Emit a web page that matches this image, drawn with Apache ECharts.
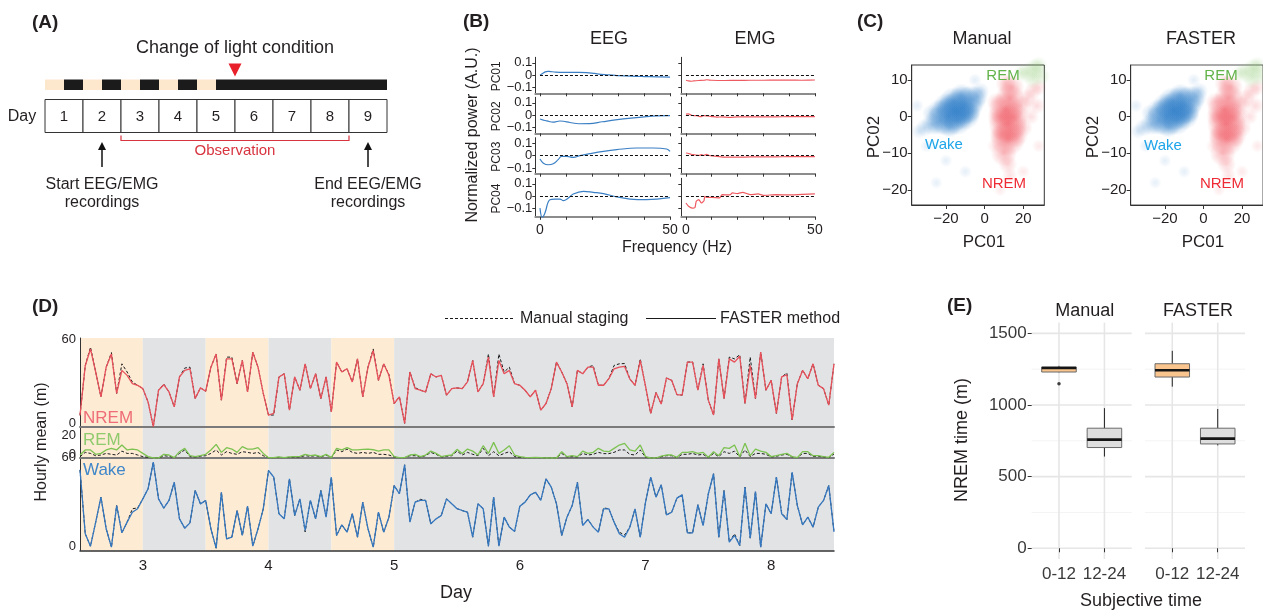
<!DOCTYPE html>
<html><head><meta charset="utf-8">
<script src="https://cdn.jsdelivr.net/npm/echarts@6/dist/echarts.min.js"></script>
<style>html,body{margin:0;padding:0;background:#fff}#c{width:1263px;height:612px}</style>
</head><body><div id="c"></div>
<script>
const FONT = '"Liberation Sans", Arial, Helvetica, sans-serif';
const INK = '#231f20';

// ---------- Panel A data ----------
const dayNumbers = [1, 2, 3, 4, 5, 6, 7, 8, 9];
// [start day, end day, isDark]
const lightPhases = [[0,0.5,0],[0.5,1,1],[1,1.5,0],[1.5,2,1],[2,2.5,0],[2.5,3,1],[3,3.5,0],[3.5,4,1],[4,4.5,0],[4.5,9,1]];
const lightChangeDay = 5;
const observationSpan = [2, 8];
const recordingDays = [1.5, 8.5];
const recordingTexts = ['Start EEG/EMG\nrecordings', 'End EEG/EMG\nrecordings'];

// ---------- Panel B data (frequency Hz, loading) ----------
const eegPC01 = [[0,0],[1,0.015],[2,0.028],[3,0.032],[4,0.03],[6,0.026],[8,0.024],[10,0.023],[12,0.023],[15,0.024],[18,0.022],[20,0.018],[22,0.012],[25,0.006],[28,0.002],[30,-0.002],[35,-0.007],[40,-0.01],[45,-0.012],[50,-0.014]];
const emgPC01 = [[0,-0.04],[1,-0.045],[2,-0.048],[3,-0.045],[5,-0.042],[7,-0.04],[8,-0.036],[10,-0.04],[15,-0.042],[20,-0.041],[25,-0.04],[30,-0.04],[35,-0.039],[40,-0.039],[45,-0.04],[50,-0.038]];
const eegPC02 = [[0,-0.03],[1,-0.037],[2,-0.042],[3.5,-0.05],[5,-0.055],[6.5,-0.05],[7.7,-0.046],[9,-0.048],[11.5,-0.058],[15,-0.068],[19,-0.067],[24,-0.052],[29,-0.037],[35,-0.022],[41,-0.01],[45,-0.005],[50,-0.003]];
const emgPC02 = [[0,0.01],[1,0.012],[2,0.002],[3,-0.003],[4,-0.002],[5,-0.008],[6,-0.01],[7,-0.002],[8,-0.005],[10,-0.01],[12,-0.015],[14,-0.012],[17,-0.016],[20,-0.013],[25,-0.013],[30,-0.012],[35,-0.012],[40,-0.011],[45,-0.011],[50,-0.01]];
const eegPC03 = [[0,-0.027],[1.3,-0.06],[3.2,-0.073],[5.1,-0.065],[7,-0.032],[8.3,-0.005],[10.3,-0.005],[12.8,-0.013],[15.4,0],[19.2,0.016],[24.4,0.035],[29.5,0.049],[37.2,0.062],[43.6,0.062],[48.7,0.054],[50,0.035]];
const emgPC03 = [[0,0.022],[1,0.018],[2,0.012],[3,0.008],[4,0.005],[5,0.002],[6,0.008],[7,0.003],[8,0.01],[9,0.002],[10,-0.002],[12,-0.005],[15,-0.012],[20,-0.012],[25,-0.01],[30,-0.01],[35,-0.009],[40,-0.008],[45,-0.008],[50,-0.007]];
const eegPC04 = [[0,-0.095],[0.9,-0.172],[1.9,-0.135],[3.8,-0.027],[5.8,-0.022],[7.7,-0.022],[9,-0.035],[10.9,-0.014],[12.8,0.019],[16.7,0.04],[20.5,0.032],[24.4,0.022],[29.5,-0.005],[34.6,-0.022],[41,-0.027],[50,-0.011]];
const emgPC04 = [[0,-0.054],[1,-0.08],[2.5,-0.095],[3.5,-0.09],[4,-0.04],[5,-0.027],[6,-0.054],[7,-0.035],[7.3,0],[8,-0.008],[10,-0.008],[13,-0.013],[14,0.013],[17,0.011],[18,0.027],[20,0.022],[22,0.032],[25,0.013],[28,0.019],[30,0.008],[35,0.013],[40,0.011],[45,0.016],[50,0.019]];
const pcNames = ['PC01', 'PC02', 'PC03', 'PC04'];
const bYTicks = [-0.1, 0, 0.1];
const eegRows = [eegPC01, eegPC02, eegPC03, eegPC04];
const emgRows = [emgPC01, emgPC02, emgPC03, emgPC04];

// ---------- Panel C data: [PC01, PC02, relative density] ----------
const wakeCloud = [[-15,1.5,3],[-11,3,3],[-19,0,3],[-7,4.5,2],[-23,-1,2],[-14,-1,2],[-16,4,2],[-27,-2,1.2],[-4,5.5,1.2],[-10,0.5,2],[-20,3,1.5],[-31,-3,0.7],[-2,7,0.6],[-24,2,1],[-12,6,1.2],[-18,-3,1],[-8,1,1.2],[-34,-4,0.4],[-28,1,0.6],[-30,-8,0.2],[-20,-12,0.15],[-10,-15,0.15],[-25,-18,0.12],[-35,3,0.2],[-5,10,0.2]];
const nremCloud = [[12,-2,3],[12,-6,2.6],[11,2,2.6],[13,5,2],[10,-10,1.6],[12,-13,0.8],[15,0,2],[8,0,1.5],[16,-5,1.5],[9,-5,1.5],[14,8,1.5],[19,3,1],[22,5,0.8],[25,7,0.7],[27,3,0.6],[20,-3,0.8],[6,4,0.8],[11,9,1],[28,8,0.5],[24,0,0.5],[13,-16,0.4],[5,-8,0.3],[20,-15,0.2],[8,-20,0.15],[28,-8,0.2]];
const remCloud = [[22,12,1],[26,13,1],[29,11,0.8],[25,10,0.6],[19,12,0.5],[28,14,0.7]];

// ---------- Panel D data (hourly, from day 2.5) ----------
const nremFaster = [8,42,53.5,37.7,20.7,41,50,23,38.8,35.4,29.7,28.6,26.3,17.2,0.2,25.2,29,24,13.8,34.3,38.8,39.9,19.5,26.8,24.5,41,50,18.4,46.7,46.7,29.7,45.6,24,51.3,41,23,8.2,
9.3,34.3,36.5,11.6,34.3,25.2,43.3,26.3,36.5,19.5,34.3,10.4,44.5,37.7,39.9,30.9,46.7,20.7,41,52.4,32,43.3,35.4,16.1,20.7,2.5,37.7,26.3,25.2,24,36.5,34.3,35.4,21.8,26.3,26.8,
26.3,30.9,45.6,24,29.7,47.9,20.7,45.6,36.5,38.8,29.7,28.6,25.2,20.7,25.2,11.6,16.1,26.3,44.5,37.7,29.7,13.8,38.8,36.5,41,41,28.6,28.6,33.1,39.9,41,41.5,33,28.6,45.6,28,
9.3,23.6,15.7,33.6,32,22.2,21.8,44.5,44.5,25.2,42.2,18.4,8.2,46.7,19.5,46.7,44.5,48.5,16.1,42.2,19.5,51.3,25.2,32,9.3,34.3,35.8,4.8,29.7,38.8,33.1,43.3,28.6,26.3,15,43.3];
const nremManual = [8,42,54.7,37.7,20.7,41,51,23,43.3,37.7,30.8,28.6,26.3,17.2,0.2,25.2,29.5,24,13.8,34.3,40.4,41,19.5,26.8,24.5,41,50,18.4,47.9,47.9,29.7,45.6,24,51.3,41,23,8.2,
8.2,34.3,36.5,11.6,34.3,25.2,43.3,26.3,36.5,19.5,34.3,10.4,44.5,37.7,39.9,30.9,46.7,20.7,41,53.5,32,43.3,36,16.1,20.7,2.5,37.7,27,25.2,24,36.5,34.3,35.4,21.8,26.3,26.8,
26.3,30.9,45.6,24,29.7,50,20.7,50,37.7,41,29.7,28.6,25.2,20.7,25.2,11.6,16.1,26.3,44.5,37.7,29.7,13.8,38.8,36.5,41,42.2,28.6,28.6,33.1,42.2,43.3,43.5,33,28.6,46.7,28,
9.3,23.6,15.7,33.6,32,22.2,21.8,44.5,44.5,25.2,43.3,18.4,8.2,46.7,19.5,47.9,46.7,49.5,16.1,47.9,19.5,51.3,25.2,32,9.3,34.3,37,4.8,29.7,38.8,33.1,43.3,28.6,26.3,15,43.3];
const remFaster = [2.6,7,7,3.2,4,7,8.4,7,11.3,7,7.8,7,4,1.2,0,0,3.2,2.6,0.3,5.5,8.4,2,1.2,2,3.2,7,11.9,4.9,9,7.8,4.9,9.9,7.8,7.8,9,4,0.3,
0.3,0.9,0.3,0.9,1.2,1.4,3.2,2,2.6,1.2,3.2,0.3,8.4,7,9,7,7,7.5,7.8,7.2,6,7,7,1.2,0.3,0.3,2.6,3.2,1.2,2.6,6,4,1.2,2,2.6,7.5,
4,7.8,6,2.6,10.7,4,13.6,4,7,10.7,2.6,1.2,0.6,0.3,0.6,0.3,0,0,0,5.5,1.2,2,1.2,6,4,4.9,8.4,6,5.5,8.4,11.3,12.8,7,6,11.3,1.2,
0,0,1.7,2.6,2.6,0.6,4.9,4.9,5.5,4,4.9,0.6,5.5,2,9,8.4,11.3,1.2,12.8,2,7.8,6,4.9,1.2,2,3.2,4,1.2,0.3,5.5,5.5,2,2,1.2,0.6,4.9];
const remManual = [1.2,4.9,4,2,2.6,4,3.2,2.6,6,4,4,2.6,1.2,0.6,0,0,2,1.5,0.3,4,7,1.2,0.9,1.5,2,4,7,2.6,5.5,4,3.2,5.5,4.9,4,4.9,2,0.3,
0.3,0.6,0.3,0.6,0.9,1,2,1.5,2,0.9,2.6,0.3,7,5.5,7.8,4.9,4,4.9,4,4.9,3.2,3.2,2.6,0.9,0.3,0.3,2,2,0.9,2,4.9,3.2,0.9,1.5,2,6,
2.6,4.9,3.2,2,8.4,2,5.5,2,4,5.5,1.2,0.6,0.3,0.3,0.3,0.3,0,0,0,4,0.9,1.2,0.9,4,2.6,3.2,4.9,3.8,3.8,4.9,7,7,3.2,2.6,7,0.6,
0,0,1.2,2,2,0.3,3.2,3.2,4,2.6,3.2,0.3,4,1.2,5.5,4,6,0.9,7,1.2,4,4,3.2,0.9,1.5,2.6,3.2,0.9,0.3,4,4,1.5,1.5,0.9,0.3,3.5];
const wakeFaster = [52,10.8,2.8,18.3,34.4,14,2.2,29,11.4,18.3,24.7,26.9,33.3,39.8,57,33.3,27.3,32.3,44,20.4,14.4,17.8,38.7,30.1,32.3,14,1.5,37.6,7.5,8.6,25.8,9.7,28.6,2.8,14,26.9,51.6,
47.3,23.7,20.4,46.2,22.6,33.3,12.9,32.3,20.4,38.7,21.5,47.3,9.7,16.6,11.8,23.7,8.6,31.2,14,2.2,24.7,11.8,21.5,41.9,36.6,55.3,18.3,31.2,32.3,32.3,17.2,20.4,22.6,33.3,30.1,27,
25.8,24.7,8.6,30.1,26.9,2.8,34.4,2.8,21.5,15.1,12.3,28.6,31.2,35.9,37.6,32.3,46.2,40.9,30.1,9.7,21.5,29,44,16.1,20,15.1,11.8,26.9,26.9,18.3,10.8,8.6,15,26.9,8.6,31,
47.3,34.4,42.4,23,24.7,33.8,35.9,11.4,11.4,29.5,16.1,36.6,49.5,8.6,38.7,5.4,9.7,3.2,40.9,8,38.1,2.2,30.1,23.7,47.3,23.7,20,50.5,29,16.6,21.5,15.1,28,32.3,41.9,12];
const wakeManual = [52,10.8,2.8,18.3,34.4,14,2.2,29,11.4,18.3,26.9,27.5,33.3,39.8,57,33.3,27.3,32.3,44,20.4,14.4,17.8,38.7,30.1,32.3,14,1.5,37.6,7.5,8.6,25.8,9.7,28.6,2.8,14,26.9,51.6,
47.3,23.7,20.4,46.2,22.6,33.3,12,32.3,20.4,38.7,21.5,47.3,9.7,16.6,11.8,23.7,8.6,31.2,14,2.2,24.7,11.8,21.5,41.9,36.6,55.3,18.3,31.2,33,32.3,17.2,20.4,22.6,33.3,30.1,27,
25.8,24.7,8.6,30.1,26.9,2.8,34.4,2.8,21.5,15.1,12.3,28.6,31.2,35.9,37.6,32.3,46.2,40.9,30.1,9.7,21.5,29,44,16.1,20,15.1,11.8,27.5,26.9,18.3,11.8,10,15,26.9,8.6,31,
47.3,34.4,42.4,23,24.7,33.8,35.9,11.4,11.4,29.5,16.1,36.6,49.5,8.6,38.7,5.4,10.8,3.2,40.9,8,38.1,2.2,30.1,23.7,47.3,24.5,20,50.5,29,16.6,21.5,15.1,28,32.3,41.9,12];
const dStartDay = 2.5;
// [start, end, isDark] subjective light/dark bands
const dayBands = [[2.5,3,0],[3,3.5,1],[3.5,4,0],[4,4.5,1],[4.5,5,0],[5,8.5,1]];
const dDayTicks = [3, 4, 5, 6, 7, 8];

// ---------- Panel E data: [category, lower whisker, Q1, median, Q3, upper whisker] ----------
const eCategories = ['0-12', '12-24'];
const boxManual = [[1,1228,1230,1258,1265,1273],[2,640,703,758,838,978]];
const boxFaster = [[1,1128,1195,1242,1288,1378],[2,718,728,765,838,972]];
const outliersManual = [[1,1148]];
const outliersFaster = [];
const eMajorY = [0, 500, 1000, 1500];
const eMinorY = [250, 750, 1250];

// ================= build =================
const grids = [], xAxes = [], yAxes = [], series = [], graphics = [];
function addGrid(g, xa, ya) {
  grids.push(g);
  const i = grids.length - 1;
  xAxes.push(Object.assign({gridIndex: i}, xa));
  yAxes.push(Object.assign({gridIndex: i}, ya));
  return i;
}
function T(x, y, text, o) {
  o = o || {};
  graphics.push({type: 'text', x: x, y: y, rotation: o.rot || 0, z: 100,
    style: {text: text, fontSize: o.size || 16, fontFamily: FONT, fontWeight: o.bold ? 'bold' : 'normal',
      fill: o.color || INK, align: o.align || 'center', verticalAlign: 'middle'}});
}
const minus = v => (v < 0 ? '\u2212' : '') + Math.abs(v);

// ----- Panel A -----
const gA = addGrid({left: 45, top: 0, width: 342, height: 600},
  {type: 'value', min: 0, max: 9, show: false}, {type: 'value', min: 0, max: 1, show: false});
const ax = (api, v) => api.coord([v, 0])[0];
series.push({type: 'custom', xAxisIndex: gA, yAxisIndex: gA, data: lightPhases, silent: true,
  renderItem: (p, api) => {
    const x0 = ax(api, api.value(0)), x1 = ax(api, api.value(1));
    return {type: 'rect', shape: {x: x0, y: 79.5, width: x1 - x0, height: 10.5},
      style: {fill: api.value(2) ? '#1b1b1b' : '#fde7cd'}};
  }});
series.push({type: 'custom', xAxisIndex: gA, yAxisIndex: gA, data: dayNumbers.map(d => [d]), silent: true,
  renderItem: (p, api) => {
    const d = api.value(0), x0 = ax(api, d - 1), x1 = ax(api, d);
    return {type: 'group', children: [
      {type: 'rect', shape: {x: x0, y: 99.5, width: x1 - x0, height: 33}, style: {fill: '#fff', stroke: '#333', lineWidth: 1}},
      {type: 'text', x: (x0 + x1) / 2, y: 117, style: {text: String(d), fontSize: 15, fontFamily: FONT, fill: INK, align: 'center', verticalAlign: 'middle'}}
    ]};
  }});
series.push({type: 'custom', xAxisIndex: gA, yAxisIndex: gA, data: [[lightChangeDay]], silent: true,
  renderItem: (p, api) => {
    const x = ax(api, api.value(0));
    return {type: 'group', children: [
      {type: 'polygon', shape: {points: [[x - 6.5, 63.5], [x + 6.5, 63.5], [x, 76.5]]}, style: {fill: '#e8202a'}},
      {type: 'text', x: x, y: 48, style: {text: 'Change of light condition', fontSize: 18, fontFamily: FONT, fill: INK, align: 'center', verticalAlign: 'middle'}}
    ]};
  }});
series.push({type: 'custom', xAxisIndex: gA, yAxisIndex: gA, data: [observationSpan], silent: true,
  renderItem: (p, api) => {
    const x0 = ax(api, api.value(0)), x1 = ax(api, api.value(1));
    return {type: 'group', children: [
      {type: 'polyline', shape: {points: [[x0, 135.5], [x0, 140.5], [x1, 140.5], [x1, 135.5]]}, style: {stroke: '#d8343f', lineWidth: 1.2, fill: null}},
      {type: 'text', x: (x0 + x1) / 2, y: 151, style: {text: 'Observation', fontSize: 15, fontFamily: FONT, fill: '#d8343f', align: 'center', verticalAlign: 'middle'}}
    ]};
  }});
series.push({type: 'custom', xAxisIndex: gA, yAxisIndex: gA, data: recordingDays.map(d => [d]), silent: true,
  renderItem: (p, api) => {
    const x = ax(api, api.value(0));
    return {type: 'group', children: [
      {type: 'line', shape: {x1: x, y1: 167, x2: x, y2: 147}, style: {stroke: '#111', lineWidth: 1.5}},
      {type: 'polygon', shape: {points: [[x - 4, 150], [x + 4, 150], [x, 142]]}, style: {fill: '#111'}},
      {type: 'text', x: x, y: 194, style: {text: recordingTexts[p.dataIndex], fontSize: 16, lineHeight: 18, fontFamily: FONT, fill: INK, align: 'center', verticalAlign: 'middle'}}
    ]};
  }});
T(22, 117, 'Day', {size: 16});
T(32, 23, '(A)', {size: 19, bold: true, align: 'left'});

// ----- Panel B -----
const bRowTops = [57.3, 97.3, 137.7, 178.3];
const bRowHeights = [36, 36, 36, 38.5];
const bRowMin = [-0.145, -0.145, -0.145, -0.165];
const bXMin = -1.8;
const bCols = [{left: 535.3, width: 134.7, color: '#3a7fc4', rows: eegRows}, {left: 681.3, width: 133.6, color: '#ee5a60', rows: emgRows}];
for (let r = 0; r < 4; r++) {
  for (let c = 0; c < 2; c++) {
    const col = bCols[c];
    const g = addGrid({left: col.left, top: bRowTops[r], width: col.width, height: bRowHeights[r]},
      {type: 'value', min: bXMin, max: 50,
        axisLine: {show: true, onZero: false, lineStyle: {color: '#8c8c8c', width: 2}},
        axisTick: {show: true, customValues: [0, 10, 20, 30, 40, 50], length: 3, lineStyle: {color: '#333'}},
        axisLabel: {show: r === 3, customValues: [0, 50], fontSize: 14, color: INK, fontFamily: FONT, margin: 6},
        splitLine: {show: false}},
      {type: 'value', min: bRowMin[r], max: 0.145,
        axisLine: {show: true, onZero: false, lineStyle: {color: '#333', width: 1}},
        axisTick: {show: true, customValues: bYTicks, length: 3, lineStyle: {color: '#333'}},
        axisLabel: {show: false},
        splitLine: {show: false}});
    series.push({type: 'line', xAxisIndex: g, yAxisIndex: g, data: col.rows[r], symbol: 'none',
      smooth: c === 0 ? 0.4 : 0.15, lineStyle: {color: col.color, width: 1.2}, silent: true, z: 3,
      markLine: {silent: true, symbol: 'none', label: {show: false},
        lineStyle: {color: '#111', type: [3, 2], width: 1},
        data: [[{coord: [0, 0]}, {coord: [50, 0]}]]}});
    if (c === 0) {
      // tick labels for the loading axis, placed through the axis scale
      series.push({type: 'custom', xAxisIndex: g, yAxisIndex: g, data: bYTicks.map(v => [bXMin, v]), silent: true, z: 5,
        renderItem: (p, api) => {
          const pt = api.coord([api.value(0), api.value(1)]);
          return {type: 'text', x: pt[0] - 3, y: pt[1], style: {text: minus(api.value(1)), fontSize: 13, fontFamily: FONT,
            fill: INK, align: 'right', verticalAlign: 'middle'}};
        }});
    }
  }
  T(497, bRowTops[r] + bRowHeights[r] / 2 + 1, pcNames[r], {size: 12, rot: Math.PI / 2});
}
T(609, 39, 'EEG', {size: 18});
T(755, 39, 'EMG', {size: 18});
T(677, 248, 'Frequency (Hz)', {size: 16});
T(473, 135, 'Normalized power (A.U.)', {size: 16, rot: Math.PI / 2});
T(463, 22, '(B)', {size: 19, bold: true, align: 'left'});

// ----- Panel C -----
const cPanels = [{left: 911.7, title: 'Manual', border: '#333'}, {left: 1130.7, title: 'FASTER', border: '#555'}];
const cloudStyle = (rgb) => ({
  color: p => {
    const a = Math.min(0.85, 0.12 + 0.24 * p.value[2]).toFixed(3);
    return new echarts.graphic.RadialGradient(0.5, 0.5, 0.5, [
      {offset: 0, color: 'rgba(' + rgb + ',' + a + ')'},
      {offset: 0.45, color: 'rgba(' + rgb + ',' + (a * 0.6).toFixed(3) + ')'},
      {offset: 1, color: 'rgba(' + rgb + ',0)'}]);
  }
});
cPanels.forEach((cp, k) => {
  const g = addGrid({left: cp.left, top: 65, width: 132.6, height: 140, show: true, borderColor: cp.border, borderWidth: 1, backgroundColor: 'transparent'},
    {type: 'value', min: -37.75, max: 30.9,
      axisLine: {show: true, onZero: false, lineStyle: {color: '#333'}},
      axisTick: {show: true, customValues: [-20, 0, 20], length: 4, lineStyle: {color: '#333'}},
      axisLabel: {customValues: [-20, 0, 20], formatter: minus, fontSize: 15, color: INK, fontFamily: FONT, margin: 6},
      splitLine: {show: false}},
    {type: 'value', min: -24.1, max: 14.1,
      axisLine: {show: true, onZero: false, lineStyle: {color: '#333'}},
      axisTick: {show: true, customValues: [-20, -10, 0, 10], length: 4, lineStyle: {color: '#333'}},
      axisLabel: {customValues: [-20, -10, 0, 10], formatter: minus, fontSize: 15, color: INK, fontFamily: FONT, margin: 4},
      splitLine: {show: false}});
  [[nremCloud, '240,88,98'], [remCloud, '130,195,100'], [wakeCloud, '45,125,200']].forEach(([cloud, rgb]) => {
    series.push({type: 'scatter', xAxisIndex: g, yAxisIndex: g, data: cloud, silent: true, clip: true, z: 2,
      symbolSize: v => 12 + v[2] * 9, itemStyle: cloudStyle(rgb)});
  });
  const cx = cp.left + 66.3;
  T(cx + 4, 39.5, cp.title, {size: 18});
  T(cx + 6, 242, 'PC01', {size: 17});
  T(cp.left - 37, 137, 'PC02', {size: 17, rot: Math.PI / 2});
});
T(1003, 76, 'REM', {size: 15, color: '#62b34a'});
T(944, 145, 'Wake', {size: 15, color: '#1ea5e9'});
T(1004, 184, 'NREM', {size: 15, color: '#ee2b35'});
T(1221, 76, 'REM', {size: 15, color: '#62b34a'});
T(1163, 146, 'Wake', {size: 15, color: '#1ea5e9'});
T(1222, 184, 'NREM', {size: 15, color: '#ee2b35'});
T(857, 22, '(C)', {size: 19, bold: true, align: 'left'});

// ----- Panel D -----
const zeroUp = {z0: {padding: [0, 0, 8, 0], fontSize: 13, color: INK, fontFamily: FONT}};
const zeroFmt = v => v === 0 ? '{z0|0}' : String(v);
const dPanels = [
  {name: 'NREM', top: 338, height: 89, max: 61, ticks: [0, 60], color: '#e8505a', faster: nremFaster, manual: nremManual, lineColor: '#7a7a7a', lineW: 2},
  {name: 'REM', top: 427, height: 31, max: 27, ticks: [0, 20], color: '#7cc250', faster: remFaster, manual: remManual, lineColor: '#7a7a7a', lineW: 2},
  {name: 'Wake', top: 457.5, height: 93, max: 60, ticks: [0, 60], color: '#3578c0', faster: wakeFaster, manual: wakeManual, lineColor: '#333', lineW: 1.5}
];
dPanels.forEach((dp, k) => {
  const last = k === 2;
  const g = addGrid({left: 80, top: dp.top, width: 754, height: dp.height},
    {type: 'value', min: 2.5, max: 8.5,
      axisLine: {show: true, onZero: false, lineStyle: {color: dp.lineColor, width: dp.lineW}},
      axisTick: {show: false},
      axisLabel: {show: last, customValues: dDayTicks, fontSize: 15, color: INK, fontFamily: FONT, margin: 8},
      splitLine: {show: false}},
    {type: 'value', min: 0, max: dp.max,
      axisLine: {show: true, onZero: false, lineStyle: {color: '#333', width: 1}},
      axisTick: {show: false},
      axisLabel: {customValues: dp.ticks, formatter: zeroFmt, rich: zeroUp, hideOverlap: false, fontSize: 13, color: INK, fontFamily: FONT, margin: 4},
      splitLine: {show: false}});
  series.push({type: 'custom', xAxisIndex: g, yAxisIndex: g, data: dayBands, silent: true, z: 0,
    renderItem: (p, api) => {
      const cs = p.coordSys;
      const x0 = api.coord([api.value(0), 0])[0], x1 = api.coord([api.value(1), 0])[0];
      return {type: 'rect', shape: {x: x0, y: cs.y, width: x1 - x0, height: cs.height},
        style: {fill: api.value(2) ? '#e2e3e5' : '#fdebd4'}};
    }});
  const toXY = arr => arr.map((v, i) => [dStartDay + i / 24, v]);
  series.push({type: 'line', xAxisIndex: g, yAxisIndex: g, data: toXY(dp.manual), symbol: 'none', silent: true, z: 3,
    lineStyle: {color: '#1a1a1a', width: 1, type: [3, 2]}});
  series.push({type: 'line', xAxisIndex: g, yAxisIndex: g, data: toXY(dp.faster), symbol: 'none', silent: true, z: 4,
    lineStyle: {color: dp.color, width: 1.3}});
});
// legend for panel D
graphics.push({type: 'line', shape: {x1: 445, y1: 318.5, x2: 515, y2: 318.5}, style: {stroke: '#1a1a1a', lineWidth: 1, lineDash: [3, 2]}, z: 100});
T(520, 318.5, 'Manual staging', {size: 16, align: 'left'});
graphics.push({type: 'line', shape: {x1: 646, y1: 318.5, x2: 716, y2: 318.5}, style: {stroke: '#1a1a1a', lineWidth: 1}, z: 100});
T(720, 318.5, 'FASTER method', {size: 16, align: 'left'});
T(83, 418, 'NREM', {size: 17, color: '#ef6d76', align: 'left'});
T(83, 440, 'REM', {size: 17, color: '#8fca6d', align: 'left'});
T(83, 470, 'Wake', {size: 17, color: '#3f87c9', align: 'left'});
T(42, 442, 'Hourly mean (m)', {size: 16, rot: Math.PI / 2});
T(456, 593, 'Day', {size: 18});
T(32, 307, '(D)', {size: 19, bold: true, align: 'left'});

// ----- Panel E -----
const ePanels = [{left: 1031.7, title: 'Manual', boxes: boxManual, outliers: outliersManual},
                 {left: 1145, title: 'FASTER', boxes: boxFaster, outliers: outliersFaster}];
ePanels.forEach((ep, k) => {
  const g = addGrid({left: ep.left, top: 322.6, width: 100, height: 236.4},
    {type: 'value', min: 0.4, max: 2.6,
      axisLine: {show: false},
      axisTick: {show: true, customValues: [1, 2], length: 4, lineStyle: {color: '#333'}},
      axisLabel: {customValues: [1, 2], formatter: v => eCategories[Math.round(v) - 1], fontSize: 17, color: '#3a3a3a', fontFamily: FONT, margin: 7},
      splitLine: {show: false}},
    {type: 'value', min: -75, max: 1575,
      axisLine: {show: false},
      axisTick: {show: k === 0, customValues: eMajorY, length: 4, lineStyle: {color: '#333'}},
      axisLabel: {show: k === 0, customValues: eMajorY, formatter: v => String(v), fontSize: 17, color: '#3a3a3a', fontFamily: FONT, margin: 5},
      splitLine: {show: false}});
  const gridData = eMajorY.map(v => [v, 2]).concat(eMinorY.map(v => [v, 1])).concat([1, 2].map(v => [v, 3]));
  series.push({type: 'custom', xAxisIndex: g, yAxisIndex: g, data: gridData, silent: true, z: 0,
    renderItem: (p, api) => {
      const cs = p.coordSys, v = api.value(0), t = api.value(1);
      if (t === 3) {
        const x = api.coord([v, 0])[0];
        return {type: 'line', shape: {x1: x, y1: cs.y, x2: x, y2: cs.y + cs.height}, style: {stroke: '#e6e6e6', lineWidth: 1.6}};
      }
      const y = api.coord([1, v])[1];
      return {type: 'line', shape: {x1: cs.x, y1: y, x2: cs.x + cs.width, y2: y},
        style: {stroke: t === 2 ? '#e6e6e6' : '#f3f3f3', lineWidth: t === 2 ? 1.6 : 0.9}};
    }});
  series.push({type: 'custom', xAxisIndex: g, yAxisIndex: g, data: ep.boxes, silent: true, z: 3,
    renderItem: (p, api) => {
      const c = api.value(0), mn = api.value(1), q1 = api.value(2), md = api.value(3), q3 = api.value(4), mx = api.value(5);
      const xl = api.coord([c - 0.38, 0])[0], xr = api.coord([c + 0.38, 0])[0], xc = api.coord([c, 0])[0];
      const y = v => api.coord([c, v])[1];
      return {type: 'group', children: [
        {type: 'line', shape: {x1: xc, y1: y(mn), x2: xc, y2: y(q1)}, style: {stroke: '#222', lineWidth: 1}},
        {type: 'line', shape: {x1: xc, y1: y(q3), x2: xc, y2: y(mx)}, style: {stroke: '#222', lineWidth: 1}},
        {type: 'rect', shape: {x: xl, y: y(q3), width: xr - xl, height: y(q1) - y(q3)},
          style: {fill: c === 1 ? '#f9c48d' : '#dedede', stroke: '#6a6a6a', lineWidth: 1}},
        {type: 'line', shape: {x1: xl, y1: y(md), x2: xr, y2: y(md)}, style: {stroke: '#151515', lineWidth: 2.6}}
      ]};
    }});
  if (ep.outliers.length) {
    series.push({type: 'scatter', xAxisIndex: g, yAxisIndex: g, data: ep.outliers, symbolSize: 3.5, silent: true, z: 4,
      itemStyle: {color: '#111'}});
  }
  T(ep.left + 53, 311, ep.title, {size: 18});
});
T(962, 440, 'NREM time (m)', {size: 18, rot: Math.PI / 2});
T(1141, 601, 'Subjective time', {size: 18});
T(947, 306, '(E)', {size: 19, bold: true, align: 'left'});

const chart = echarts.init(document.getElementById('c'), null, {renderer: 'canvas', width: 1263, height: 612});
chart.setOption({
  animation: false,
  backgroundColor: '#fff',
  textStyle: {fontFamily: FONT},
  grid: grids, xAxis: xAxes, yAxis: yAxes, series: series,
  graphic: graphics
});
</script></body></html>
